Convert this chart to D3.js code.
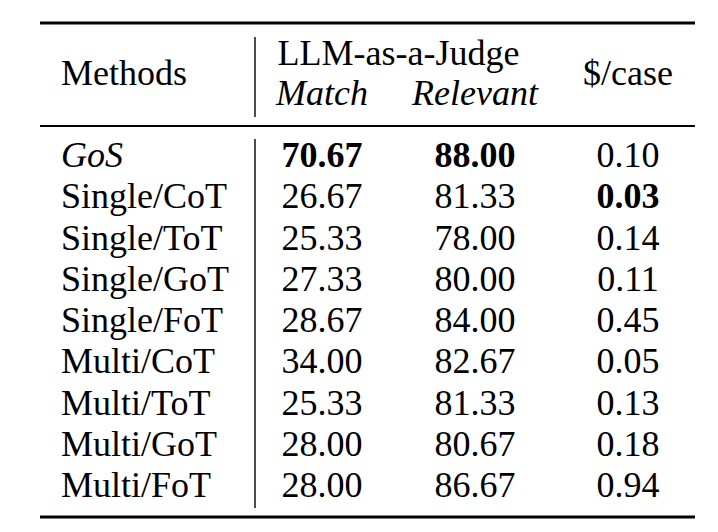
<!DOCTYPE html>
<html lang="en">
<head>
    <title>LLM-as-a-Judge table</title>
    <script src="https://d3js.org/d3.v7.min.js"></script>
    <style>
        body { margin: 0; background: #fff; }
    </style>
</head>
<body>

<script>
    // table data
    const methods = ["GoS", "Single/CoT", "Single/ToT", "Single/GoT", "Single/FoT",
                     "Multi/CoT", "Multi/ToT", "Multi/GoT", "Multi/FoT"];
    const matchScores = [70.67, 26.67, 25.33, 27.33, 28.67, 34.00, 25.33, 28.00, 28.00];
    const relevantScores = [88.00, 81.33, 78.00, 80.00, 84.00, 82.67, 81.33, 80.67, 86.67];
    const costPerCase = [0.10, 0.03, 0.14, 0.11, 0.45, 0.05, 0.13, 0.18, 0.94];
    const valueColumns = ["Match", "Relevant", "$/case"];

    const width = 718, height = 532;
    const fontSize = 36;
    const serif = "Liberation Serif";

    const svg = d3.select("body").append("svg")
            .attr("width", width)
            .attr("height", height);

    // column centres and row baselines
    const x = d3.scalePoint()
            .domain(valueColumns)
            .range([322, 628]);
    const y = d3.scaleLinear()
            .domain([0, methods.length - 1])
            .range([167, 497]);

    const left = 40, right = 695, methodX = 61, sepX = 255;

    // booktabs style rules
    const rules = [
        {y: 23, w: 3},
        {y: 126, w: 2},
        {y: 517, w: 3}
    ];
    svg.selectAll("line.rule")
            .data(rules).enter()
            .append("line")
            .attr("class", "rule")
            .attr("x1", left).attr("x2", right)
            .attr("y1", d => d.y).attr("y2", d => d.y)
            .attr("stroke", "#000")
            .attr("stroke-width", d => d.w);

    // vertical separator, broken around the midrule
    svg.selectAll("line.sep")
            .data([[37, 117], [139, 508]]).enter()
            .append("line")
            .attr("class", "sep")
            .attr("x1", sepX).attr("x2", sepX)
            .attr("y1", d => d[0]).attr("y2", d => d[1])
            .attr("stroke", "#000")
            .attr("stroke-width", 1.4);

    function cell(sel) {
        return sel.style("font-family", serif)
                .style("font-size", fontSize + "px")
                .style("fill", "#000");
    }

    // header
    const header = svg.append("g");
    header.append("text").call(cell)
            .attr("x", methodX).attr("y", 85).text("Methods");
    header.append("text").call(cell)
            .attr("x", (x("Match") + x("Relevant")) / 2).attr("y", 65)
            .attr("text-anchor", "middle")
            .text("LLM-as-a-Judge");
    header.selectAll("text.sub")
            .data(valueColumns.slice(0, 2)).enter()
            .append("text").call(cell)
            .attr("class", "sub")
            .attr("x", d => x(d)).attr("y", 105)
            .attr("text-anchor", "middle")
            .style("font-style", "italic")
            .text(d => d);
    header.append("text").call(cell)
            .attr("x", x("$/case")).attr("y", 85)
            .attr("text-anchor", "middle")
            .text("$/case");

    // best values are bold
    const bestMatch = d3.max(matchScores);
    const bestRelevant = d3.max(relevantScores);
    const bestCost = d3.min(costPerCase);

    const rows = methods.map((m, i) => ({
        method: m,
        cells: [
            {col: "Match", text: matchScores[i].toFixed(2), bold: matchScores[i] === bestMatch},
            {col: "Relevant", text: relevantScores[i].toFixed(2), bold: relevantScores[i] === bestRelevant},
            {col: "$/case", text: costPerCase[i].toFixed(2), bold: costPerCase[i] === bestCost}
        ]
    }));

    const rowG = svg.append("g").selectAll("g.row")
            .data(rows).enter()
            .append("g")
            .attr("class", "row")
            .attr("transform", (d, i) => `translate(0,${y(i)})`);

    rowG.append("text").call(cell)
            .attr("x", methodX)
            .style("font-style", (d, i) => i === 0 ? "italic" : "normal")
            .text(d => d.method);

    rowG.selectAll("text.val")
            .data(d => d.cells).enter()
            .append("text").call(cell)
            .attr("class", "val")
            .attr("x", d => x(d.col))
            .attr("text-anchor", "middle")
            .style("font-weight", d => d.bold ? "bold" : "normal")
            .text(d => d.text);
</script>

</body>
</html>
